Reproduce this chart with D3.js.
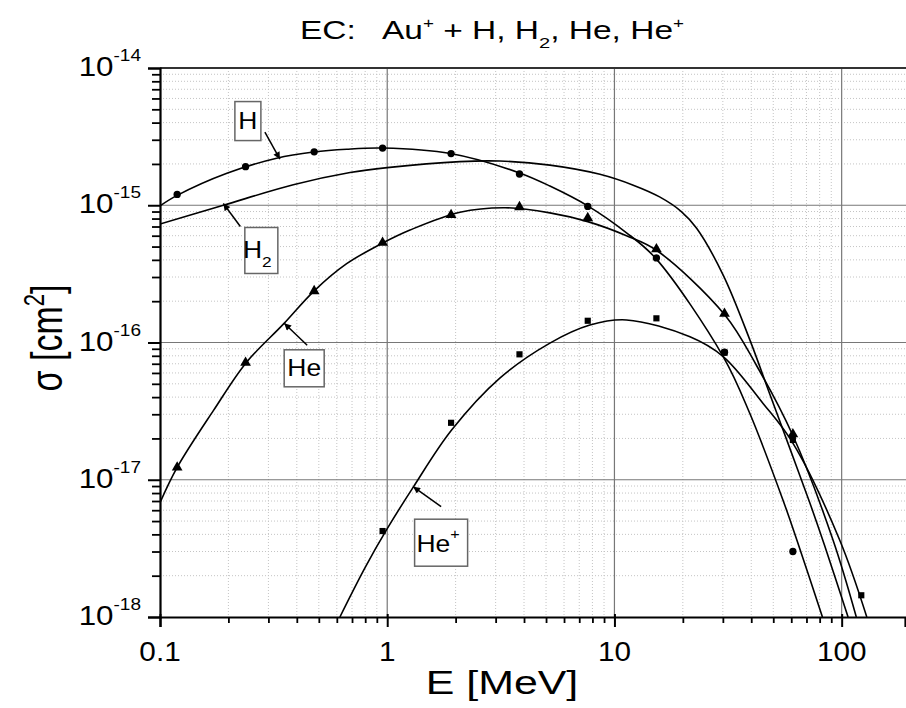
<!DOCTYPE html>
<html>
<head>
<meta charset="utf-8">
<script src="https://cdn.jsdelivr.net/npm/d3@7"></script>
<style>
  body { margin: 0; background: #fff; }
  svg { display: block; font-family: Arial, "Liberation Sans", sans-serif; }
</style>
</head>
<body>
<svg id="chart" width="906" height="708"></svg>
<script>
// Projectile energies (MeV) of the measured points
const energies = [0.119, 0.238, 0.477, 0.954, 1.91, 3.82, 7.63, 15.3, 30.5, 61.0, 122];
// Measured electron-capture cross sections (cm^2); null = no point
const sigmaH   = [1.20e-15, 1.91e-15, 2.45e-15, 2.61e-15, 2.38e-15, 1.69e-15, 9.8e-16, 4.13e-16, 8.5e-17, 3.0e-18, null];
const sigmaHe  = [1.23e-17, 7.13e-17, 2.37e-16, 5.33e-16, 8.5e-16, 9.7e-16, 8.07e-16, 4.78e-16, 1.62e-16, 2.15e-17, null];
const sigmaHeP = [null, null, null, 4.23e-18, 2.6e-17, 8.2e-17, 1.44e-16, 1.50e-16, 8.43e-17, 1.95e-17, 1.44e-18];

// Fitted curves, [E (MeV), sigma (cm^2)]
const fitH = [[0.1, 0.99e-15], [0.119, 1.18e-15], [0.197, 1.71e-15], [0.326, 2.20e-15], [0.474, 2.44e-15],
  [0.663, 2.56e-15], [0.954, 2.61e-15], [1.90, 2.38e-15], [3.82, 1.72e-15], [5.2, 1.38e-15], [7.63, 9.9e-16],
  [11.3, 6.3e-16], [15.2, 4.1e-16], [30.1, 7.9e-17], [39.4, 3.05e-17], [55.2, 7.1e-18], [63.5, 3.64e-18], [82.3, 1.0e-18]];
const fitH2 = [[0.1, 7.3e-16], [0.19, 1.0e-15], [0.386, 1.41e-15], [0.686, 1.73e-15], [1.0, 1.88e-15],
  [2.09, 2.08e-15], [3.13, 2.10e-15], [5.2, 1.96e-15], [8.63, 1.68e-15], [12.1, 1.40e-15], [15.8, 1.15e-15],
  [19.7, 9.0e-16], [23.0, 6.8e-16], [30.1, 3.1e-16], [39.4, 1.05e-16], [48.3, 4.2e-17], [59.1, 1.7e-17],
  [72.4, 6.8e-18], [84.2, 3.3e-18], [106.7, 1.0e-18]];
const fitHe = [[0.1, 6.8e-18], [0.119, 1.23e-17], [0.172, 3.2e-17], [0.239, 7.1e-17], [0.349, 1.36e-16],
  [0.476, 2.37e-16], [0.663, 3.75e-16], [0.96, 5.33e-16], [1.26, 6.6e-16], [2.09, 8.9e-16], [3.3, 9.6e-16],
  [5.2, 8.8e-16], [7.63, 7.6e-16], [11.3, 6.0e-16], [15.3, 4.7e-16], [30.5, 1.6e-16], [42.2, 6.8e-17],
  [61.0, 2.1e-17], [91.6, 3.64e-18], [116, 1.0e-18]];
const fitHeP = [[0.619, 1.0e-18], [0.8, 2.3e-18], [1.0, 4.4e-18], [1.30, 8.8e-18], [1.92, 2.3e-17],
  [3.13, 5.5e-17], [5.2, 9.9e-17], [7.8, 1.34e-16], [11.3, 1.46e-16], [21.5, 1.10e-16], [30.1, 7.9e-17],
  [45.1, 3.6e-17], [61.0, 1.85e-17], [98, 3.64e-18], [129, 1.0e-18]];

// Axis limits and tick labels
const xLimits = [0.1, 190];
const yLimits = [1e-18, 1e-14];
const xTicks = [0.1, 1, 10, 100];
const xTickLabels = ["0.1", "1", "10", "100"];
const yTickExponents = [-14, -15, -16, -17, -18];

// Curve labels: text and the point on the curve the arrow points to
const labelNames = ["H", "H2", "He", "He+"];
const labelTips = [[0.337, 2.17e-15], [0.19, 1.03e-15], [0.352, 1.38e-16], [1.30, 8.9e-18]];

// ---- layout ----
const W = 906, H = 708;
const plot = { left: 160, top: 68, bottom: 617 };
const FONT = "Arial, 'Liberation Sans', sans-serif";
const svg = d3.select("#chart");

const x = d3.scaleLog().domain(xLimits).range([plot.left, 905]);
const y = d3.scaleLog().domain(yLimits).range([plot.bottom, plot.top]);

// Text in this figure is set slightly wide; a horizontal stretch reproduces that
function wideText(parent, px, py, sx, rotate) {
  const g = parent.append("g")
    .attr("transform", `translate(${px},${py}) scale(${sx},1)` + (rotate ? ` rotate(${rotate})` : ""));
  return g.append("text").attr("x", 0).attr("y", 0).attr("fill", "#000").attr("font-family", FONT);
}

const defs = svg.append("defs");
defs.append("clipPath").attr("id", "plotClip")
  .append("rect").attr("x", plot.left).attr("y", plot.top)
  .attr("width", W - plot.left).attr("height", plot.bottom - plot.top);

const marker = defs.append("marker")
  .attr("id", "arrowHead").attr("viewBox", "0 0 10 10")
  .attr("refX", 10).attr("refY", 5)
  .attr("markerWidth", 10).attr("markerHeight", 7)
  .attr("markerUnits", "userSpaceOnUse")
  .attr("orient", "auto");
marker.append("path").attr("d", "M0,0 L10,5 L0,10 Z").attr("fill", "#000");

// Minor grid (2..9 within each decade)
const minorX = [], minorY = [];
for (let d = -1; d <= 2; d++) for (let k = 2; k <= 9; k++) {
  const v = k * Math.pow(10, d);
  if (v > xLimits[0] && v < xLimits[1]) minorX.push(v);
}
for (let d = -18; d <= -15; d++) for (let k = 2; k <= 9; k++) minorY.push(k * Math.pow(10, d));

const grid = svg.append("g").attr("clip-path", "url(#plotClip)");
grid.selectAll(".mx").data(minorX).enter().append("line")
  .attr("x1", d => x(d)).attr("x2", d => x(d))
  .attr("y1", plot.top).attr("y2", plot.bottom)
  .attr("stroke", "#c4c4c4").attr("stroke-width", 1).attr("stroke-dasharray", "1,2");
grid.selectAll(".my").data(minorY).enter().append("line")
  .attr("x1", plot.left).attr("x2", W)
  .attr("y1", d => y(d)).attr("y2", d => y(d))
  .attr("stroke", "#c4c4c4").attr("stroke-width", 1).attr("stroke-dasharray", "1,2");

// Major grid
grid.selectAll(".Mx").data(xTicks.slice(1)).enter().append("line")
  .attr("x1", d => x(d)).attr("x2", d => x(d))
  .attr("y1", plot.top).attr("y2", plot.bottom)
  .attr("stroke", "#777").attr("stroke-width", 1.2);
grid.selectAll(".My").data(yTickExponents.slice(1, -1)).enter().append("line")
  .attr("x1", plot.left).attr("x2", W)
  .attr("y1", d => y(Math.pow(10, d))).attr("y2", d => y(Math.pow(10, d)))
  .attr("stroke", "#777").attr("stroke-width", 1.2);

// Fitted curves
const line = d3.line().x(d => x(d[0])).y(d => y(d[1])).curve(d3.curveCatmullRom.alpha(0.5));
const curves = svg.append("g").attr("clip-path", "url(#plotClip)");
[fitH, fitH2, fitHe, fitHeP].forEach(c => {
  curves.append("path").attr("d", line(c))
    .attr("fill", "none").attr("stroke", "#000").attr("stroke-width", 1.6);
});

// Measured points
const pts = svg.append("g").attr("clip-path", "url(#plotClip)");
function drawPoints(values, type, size) {
  const sym = d3.symbol().type(type).size(size);
  pts.selectAll(null).data(energies.map((e, i) => [e, values[i]]).filter(d => d[1] != null))
    .enter().append("path")
    .attr("d", sym)
    .attr("transform", d => `translate(${x(d[0])},${y(d[1])})`)
    .attr("fill", "#000");
}
drawPoints(sigmaH, d3.symbolCircle, 42);
drawPoints(sigmaHe, d3.symbolTriangle, 50);
drawPoints(sigmaHeP, d3.symbolSquare, 38);

// Frame
svg.append("line").attr("x1", plot.left).attr("x2", W).attr("y1", plot.top).attr("y2", plot.top)
  .attr("stroke", "#333").attr("stroke-width", 2.2);

// Axes
const xAxis = d3.axisBottom(x).tickValues(xTicks).tickSize(10).tickFormat("");
const gx = svg.append("g").attr("transform", `translate(0,${plot.bottom})`).call(xAxis);
gx.select(".domain").attr("stroke", "#000").attr("stroke-width", 2.2);
gx.selectAll(".tick line").attr("stroke", "#000").attr("stroke-width", 2).attr("y1", -3);
const gxMinor = svg.append("g").attr("transform", `translate(0,${plot.bottom})`)
  .call(d3.axisBottom(x).tickValues(minorX).tickSize(6).tickFormat(""));
gxMinor.select(".domain").remove();
gxMinor.selectAll(".tick line").attr("stroke", "#000").attr("stroke-width", 1.8);

xTicks.forEach((v, i) => {
  wideText(svg, x(v), 661, 1.1).attr("text-anchor", "middle").attr("font-size", 27).text(xTickLabels[i]);
});

const yAxis = d3.axisLeft(y).tickValues(yTickExponents.map(e => Math.pow(10, e))).tickSize(12).tickFormat("");
const gy = svg.append("g").attr("transform", `translate(${plot.left},0)`).call(yAxis);
gy.select(".domain").attr("stroke", "#000").attr("stroke-width", 2.2);
gy.selectAll(".tick line").attr("stroke", "#000").attr("stroke-width", 2);
const gyMinor = svg.append("g").attr("transform", `translate(${plot.left},0)`)
  .call(d3.axisLeft(y).tickValues(minorY).tickSize(8).tickFormat(""));
gyMinor.select(".domain").remove();
gyMinor.selectAll(".tick line").attr("stroke", "#000").attr("stroke-width", 1.8);

// y tick labels as 10^n
yTickExponents.forEach(e => {
  const t = wideText(svg, 141, y(Math.pow(10, e)) + 8, 1.12).attr("text-anchor", "end");
  t.append("tspan").attr("font-size", 28).text("10");
  t.append("tspan").attr("font-size", 17).attr("dy", -15).text(String(e));
});

// Axis titles
wideText(svg, 502, 694, 1.3).attr("text-anchor", "middle").attr("font-size", 33).text("E [MeV]");
const yt = wideText(svg, 62, 338, 1.3, -90).attr("text-anchor", "middle").attr("font-size", 34);
yt.append("tspan").text("σ [cm");
yt.append("tspan").attr("font-size", 22).attr("dy", -14).text("2");
yt.append("tspan").attr("dy", 14).text("]");

// Title
const title = wideText(svg, 492, 39, 1.34).attr("text-anchor", "middle")
  .attr("font-size", 25).attr("xml:space", "preserve");
title.append("tspan").text("EC:   Au");
title.append("tspan").attr("font-size", 14).attr("dy", -11).text("+");
title.append("tspan").attr("dy", 11).text(" + H, H");
title.append("tspan").attr("font-size", 15).attr("dy", 9).text("2");
title.append("tspan").attr("dy", -9).text(", He, He");
title.append("tspan").attr("font-size", 14).attr("dy", -11).text("+");

// Curve labels: boxed text with an arrow to the curve
const labelLayout = [
  { dx: -32, dy: -38, bw: 26, bh: 39, tail: [-15, -27] },
  { dx: 38,  dy: 47,  bw: 33, bh: 46, tail: [17, 23] },
  { dx: 20,  dy: 45,  bw: 40, bh: 37, tail: [23, 22] },
  { dx: 28,  dy: 56,  bw: 53, bh: 47, tail: [28, 20] }
];
const ann = svg.append("g");
labelNames.forEach((name, i) => {
  const L = labelLayout[i];
  const tx = x(labelTips[i][0]), ty = y(labelTips[i][1]);
  const cx = tx + L.dx, cy = ty + L.dy;
  ann.append("line")
    .attr("x1", tx + L.tail[0]).attr("y1", ty + L.tail[1])
    .attr("x2", tx).attr("y2", ty)
    .attr("stroke", "#000").attr("stroke-width", 1.5)
    .attr("marker-end", "url(#arrowHead)");
  ann.append("rect")
    .attr("x", cx - L.bw / 2).attr("y", cy - L.bh / 2)
    .attr("width", L.bw).attr("height", L.bh)
    .attr("fill", "#fff").attr("stroke", "#666").attr("stroke-width", 1.5);
  let t;
  if (name === "H2") {
    t = wideText(ann, cx - 4, cy + 8, 1.15).attr("text-anchor", "middle").attr("font-size", 23);
    t.append("tspan").text("H");
    t.append("tspan").attr("font-size", 15).attr("dy", 9).text("2");
  } else if (name === "He+") {
    t = wideText(ann, cx - 3, cy + 9, 1.15).attr("text-anchor", "middle").attr("font-size", 23);
    t.append("tspan").text("He");
    t.append("tspan").attr("font-size", 14).attr("dy", -13).text("+");
  } else {
    t = wideText(ann, cx, cy + 8, 1.15).attr("text-anchor", "middle").attr("font-size", 23).text(name);
  }
});
</script>
</body>
</html>
